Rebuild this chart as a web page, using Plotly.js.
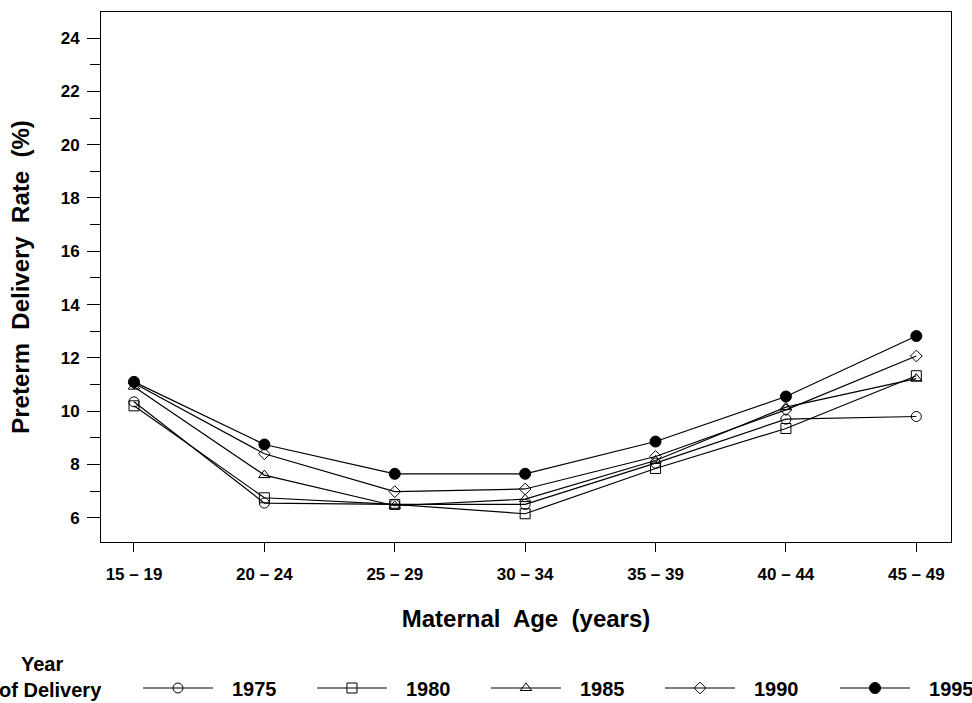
<!DOCTYPE html>
<html>
<head>
<meta charset="utf-8">
<script src="https://cdn.plot.ly/plotly-3.0.1.min.js"></script>
<style>html,body{margin:0;padding:0;background:#fff;}#chart{width:972px;height:703px;}</style>
</head>
<body>
<div id="chart"></div>
<script>
// ---- data ----
var ageGroups = ['15 \u2013 19', '20 \u2013 24', '25 \u2013 29', '30 \u2013 34', '35 \u2013 39', '40 \u2013 44', '45 \u2013 49'];
var yearLabels = ['1975', '1980', '1985', '1990', '1995'];
var rate1975 = [10.35, 6.55, 6.50, 6.50, 8.05, 9.70, 9.80];
var rate1980 = [10.20, 6.75, 6.50, 6.15, 7.85, 9.35, 11.33];
var rate1985 = [10.92, 7.60, 6.45, 6.70, 8.15, 10.15, 11.22];
var rate1990 = [11.05, 8.40, 6.98, 7.08, 8.30, 10.05, 12.07];
var rate1995 = [11.10, 8.75, 7.65, 7.65, 8.86, 10.55, 12.82];
var yTicks = [6, 8, 10, 12, 14, 16, 18, 20, 22, 24];

var series = [rate1975, rate1980, rate1985, rate1990, rate1995];
var symbols = ['circle-open', 'square-open', 'triangle-up-open', 'diamond-open', 'circle'];
var sizes = [10, 10, 10, 9, 11];
var legendIds = ['legend', 'legend', 'legend', 'legend', 'legend2'];

var FONT = 'Liberation Sans, Arial, Helvetica, sans-serif';
var traces = series.map(function (vals, i) {
  return {
    type: 'scatter', mode: 'lines+markers',
    x: ageGroups, y: vals, name: '\u2002\u2009' + yearLabels[i],
    legend: legendIds[i],
    line: {color: '#000', width: 1.2},
    marker: {symbol: symbols[i], size: sizes[i], color: '#000', line: {color: '#000', width: 1}},
    cliponaxis: false
  };
});

var legendCommon = {
  orientation: 'h', xanchor: 'left', y: -0.2755, yanchor: 'middle',
  font: {size: 20, weight: 'bold', family: FONT},
  itemwidth: 70, entrywidthmode: 'pixels',
  bgcolor: 'rgba(0,0,0,0)', borderwidth: 0, traceorder: 'normal'
};

var layout = {
  width: 972, height: 703,
  margin: {l: 101, r: 21, t: 12, b: 161, autoexpand: false},
  paper_bgcolor: '#fff', plot_bgcolor: '#fff',
  font: {family: FONT, color: '#000', size: 17, weight: 'bold'},
  showlegend: true,
  legend: Object.assign({}, legendCommon, {x: 0.0435, entrywidth: 89}),
  legend2: Object.assign({}, legendCommon, {x: (835 - 101) / 850, entrywidth: 56}),
  xaxis: {
    type: 'category', range: [-0.253, 6.266],
    showline: true, linecolor: '#000', linewidth: 1, mirror: true,
    ticks: 'outside', ticklen: 9, tickcolor: '#000', tickwidth: 1,
    ticklabelstandoff: 8,
    showgrid: false, zeroline: false,
    tickfont: {size: 17, weight: 'bold'},
    title: {text: 'Maternal\u00a0 Age\u00a0 (years)', font: {size: 24, weight: 'bold'}, standoff: 26}
  },
  yaxis: {
    range: [5.09, 24.98], tickvals: yTicks,
    showline: true, linecolor: '#000', linewidth: 1, mirror: true,
    ticks: 'outside', ticklen: 13, tickcolor: '#000', tickwidth: 1,
    minor: {dtick: 1, tick0: 0, ticks: 'outside', ticklen: 10, tickcolor: '#000', showgrid: false},
    ticklabelstandoff: 4,
    showgrid: false, zeroline: false,
    tickfont: {size: 17, weight: 'bold'},
    title: {text: 'Preterm\u00a0 Delivery\u00a0 Rate\u00a0 (%)', font: {size: 24, weight: 'bold'}, standoff: 24}
  },
  annotations: [
    {xref: 'paper', yref: 'paper', x: (42 - 101) / 850, y: (542 - 664) / 530, text: 'Year',
     showarrow: false, xanchor: 'center', yanchor: 'middle', font: {size: 20, weight: 'bold'}},
    {xref: 'paper', yref: 'paper', x: (104 - 101) / 850, y: (542 - 690) / 530, text: 'of Delivery',
     showarrow: false, xanchor: 'right', yanchor: 'middle', font: {size: 20, weight: 'bold'}}
  ]
};

Plotly.newPlot('chart', traces, layout, {displayModeBar: false, staticPlot: true});
</script>
</body>
</html>
